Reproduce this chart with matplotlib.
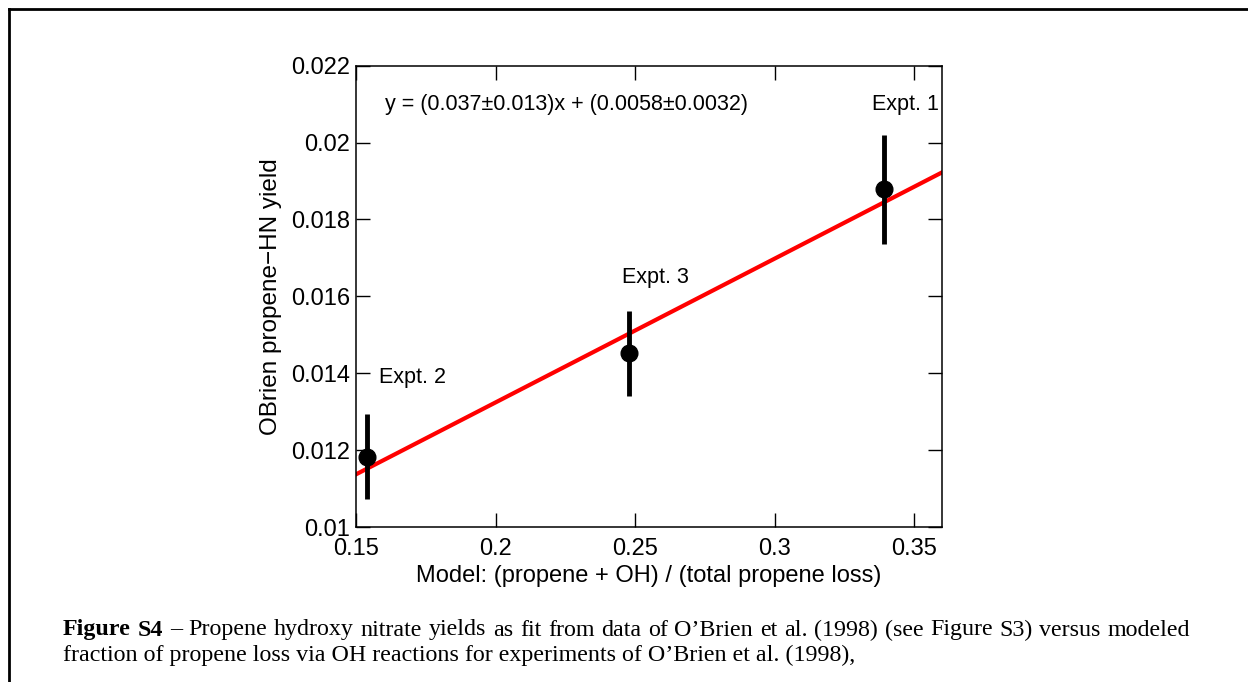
import numpy as np
import matplotlib.pyplot as plt
from matplotlib.lines import Line2D

# data
model_frac = [0.3391, 0.1538, 0.2480]          # Expt. 1, 2, 3
hn_yield = [0.01878, 0.01183, 0.01452]
hn_err = [0.00141, 0.00110, 0.00111]
expt_names = ["Expt. 1", "Expt. 2", "Expt. 3"]
label_pos = [(0.3468, 0.0210), (0.1582, 0.0139), (0.2572, 0.01648)]

fit_slope = 0.0374
fit_icpt = 0.00576
fit_text = "y = (0.037\u00b10.013)x + (0.0058\u00b10.0032)"

xticks = [0.15, 0.2, 0.25, 0.3, 0.35]
xticklabels = ["0.15", "0.2", "0.25", "0.3", "0.35"]
yticks = [0.01, 0.012, 0.014, 0.016, 0.018, 0.02, 0.022]
yticklabels = ["0.01", "0.012", "0.014", "0.016", "0.018", "0.02", "0.022"]

caption1 = ("Figure S4|\u2013 Propene hydroxy nitrate yields as fit from data of O\u2019Brien et al. "
            "(1998) (see Figure S3) versus modeled")
caption2 = "fraction of propene loss via OH reactions for experiments of O\u2019Brien et al. (1998),"

plt.rcParams["font.family"] = ["Liberation Sans", "DejaVu Sans"]

fig = plt.figure(figsize=(12.48, 6.82), dpi=100)
ax = fig.add_axes([356 / 1248, 1 - 527 / 682, 586 / 1248, 461.3 / 682])

xx = np.array([0.15, 0.36])
ax.plot(xx, fit_slope * xx + fit_icpt, color="red", lw=3, zorder=2)
ax.errorbar(model_frac, hn_yield, yerr=hn_err, fmt="o", color="black",
            ms=12, elinewidth=3.5, capsize=0, zorder=3)

for name, (lx, ly) in zip(expt_names, label_pos):
    ax.text(lx, ly, name, fontsize=15.5, ha="center" if name != "Expt. 2" else "left",
            va="center")
ax.text(0.1604, 0.0210, fit_text, fontsize=15.5, ha="left", va="center")

ax.set_xlim(0.15, 0.36)
ax.set_ylim(0.01, 0.022)
ax.set_xticks(xticks)
ax.set_xticklabels(xticklabels)
ax.set_yticks(yticks)
ax.set_yticklabels(yticklabels)
ax.tick_params(direction="in", length=10, width=1, labelsize=17,
               top=True, right=True)
ax.tick_params(axis="x", pad=8)
ax.tick_params(axis="y", pad=4)
for s in ax.spines.values():
    s.set_linewidth(1.1)
ax.set_xlabel("Model: (propene + OH) / (total propene loss)", fontsize=17, labelpad=3.5)
ax.set_ylabel("OBrien propene\u2212HN yield", fontsize=17.5, labelpad=7)

# page frame (top and left edges only are visible)
fig.add_artist(Line2D([8.5 / 1248, 1], [1 - 9 / 682] * 2, color="black", lw=2,
                      transform=fig.transFigure))
fig.add_artist(Line2D([8.5 / 1248] * 2, [0, 1 - 9 / 682], color="black", lw=2,
                      transform=fig.transFigure))

# caption, first line justified word by word
fig.canvas.draw()
r = fig.canvas.get_renderer()
x0, x1 = 63 / 1248, 1190 / 1248
y1 = 1 - 630 / 682
head, rest = caption1.split("|")
words = [(w, "bold") for w in head.split()] + [(w, "normal") for w in rest.split()]
texts = []
for w, wt in words:
    t = fig.text(0, y1, w, family="Liberation Serif", fontsize=17.3, fontweight=wt,
                 va="center", ha="left")
    texts.append(t)
widths = [t.get_window_extent(r).width / fig.bbox.width for t in texts]
gap = (x1 - x0 - sum(widths)) / (len(texts) - 1)
xpos = x0
for t, w in zip(texts, widths):
    t.set_x(xpos)
    xpos += w + gap
fig.text(x0, 1 - 655 / 682, caption2, family="Liberation Serif", fontsize=17.3,
         va="center", ha="left")

fig.savefig("out.png", dpi=100)
